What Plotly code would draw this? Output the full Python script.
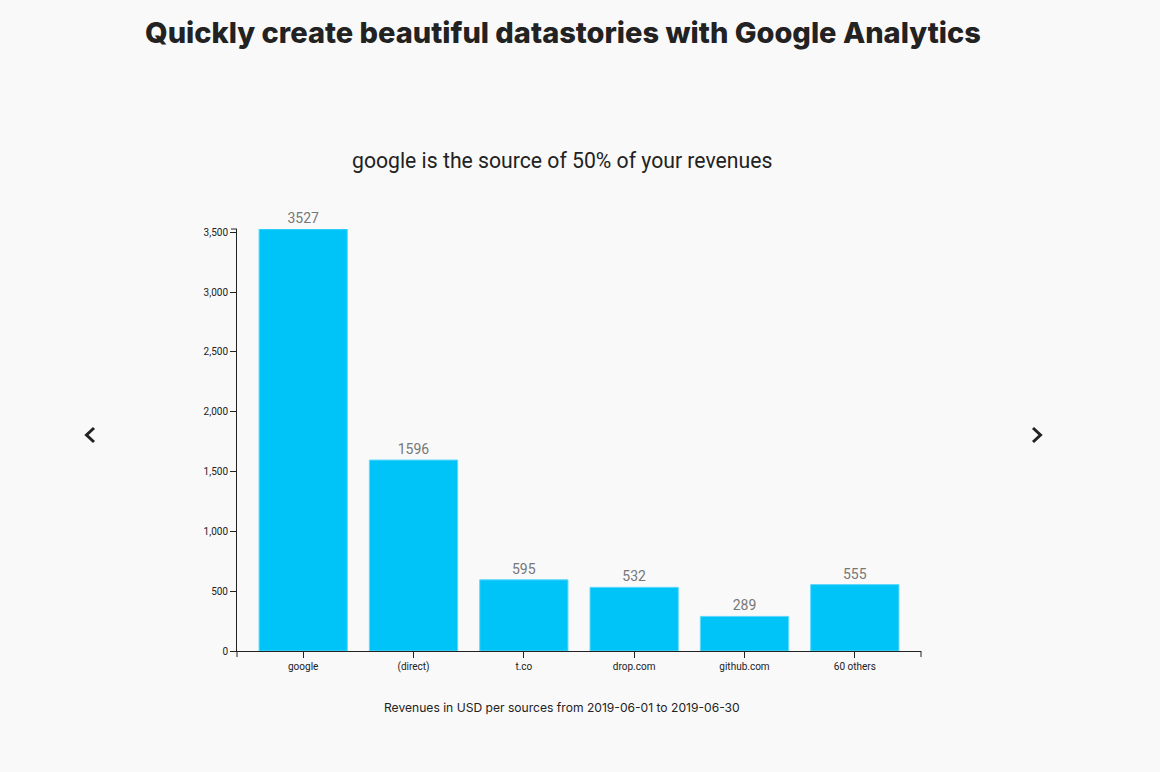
import plotly.graph_objects as go

sources = ["google", "(direct)", "t.co", "drop.com", "github.com", "60 others"]
revenues = [3527, 1596, 595, 532, 289, 555]
y_ticks = [0, 500, 1000, 1500, 2000, 2500, 3000, 3500]

W, H = 1160, 772
L, R, T, B = 237, 921, 229, 651

def px(x):
    return (x - L) / (R - L)

def py(y):
    return (B - y) / (B - T)

fig = go.Figure(go.Bar(
    x=sources, y=revenues, width=0.8,
    marker=dict(color="#00C4F7", line=dict(color="#5fd8fa", width=1)),
    text=[str(v) for v in revenues], textposition="outside",
    textfont=dict(family="Roboto, Arial, sans-serif", size=14, color="#777777"),
    cliponaxis=False, hoverinfo="x+y",
))

fig.update_layout(
    width=W, height=H,
    margin=dict(l=L, r=W - R, t=T, b=H - B),
    paper_bgcolor="#f9f9f9", plot_bgcolor="#f9f9f9",
    showlegend=False,
    bargap=0.2,
    xaxis=dict(range=[-0.6, 5.6], showline=True, linecolor="#222", linewidth=1,
               ticks="outside", ticklen=6, tickcolor="#222", showgrid=False,
               tickfont=dict(family="Roboto, Arial, sans-serif", size=10, color="#222"),
               fixedrange=True),
    yaxis=dict(range=[0, 3527], showline=True, linecolor="#222", linewidth=1,
               ticks="outside", ticklen=6, tickcolor="#222", showgrid=False,
               tickvals=y_ticks, tickformat=",", zeroline=False,
               tickfont=dict(family="Roboto, Arial, sans-serif", size=10, color="#222"),
               fixedrange=True),
    annotations=[
        dict(text="Quickly create beautiful datastories with Google Analytics",
             xref="paper", yref="paper", x=px(563), y=py(32), showarrow=False,
             xanchor="center", yanchor="middle",
             font=dict(family="Inter, Lato, sans-serif", size=29, color="#222", weight=800)),
        dict(text="google is the source of 50% of your revenues",
             xref="paper", yref="paper", x=px(562), y=py(161), showarrow=False,
             xanchor="center", yanchor="middle",
             font=dict(family="Roboto, Arial, sans-serif", size=21.2, color="#222")),
        dict(text="Revenues in USD per sources from 2019-06-01 to 2019-06-30",
             xref="paper", yref="paper", x=px(562), y=py(707), showarrow=False,
             xanchor="center", yanchor="middle",
             font=dict(family="Inter, Lato, sans-serif", size=12.1, color="#222")),
    ],
    shapes=[
        dict(type="line", xref="paper", yref="paper", x0=px(921), x1=px(921), y0=py(651), y1=py(657),
             line=dict(color="#222", width=1)),
        dict(type="line", xref="paper", yref="paper", x0=px(237), x1=px(237), y0=py(651), y1=py(657),
             line=dict(color="#222", width=1)),
        dict(type="line", xref="paper", yref="paper", x0=px(231), x1=px(237), y0=py(229), y1=py(229),
             line=dict(color="#222", width=1)),
        dict(type="path", xref="paper", yref="paper",
             path=f"M {px(94)},{py(428)} L {px(86.5)},{py(435)} L {px(94)},{py(442)}",
             line=dict(color="#222", width=3)),
        dict(type="path", xref="paper", yref="paper",
             path=f"M {px(1033)},{py(428)} L {px(1040.5)},{py(435)} L {px(1033)},{py(442)}",
             line=dict(color="#222", width=3)),
    ],
)

fig.write_html(
    "out.html",
    config={"displayModeBar": False},
    post_script="document.body.style.margin='0';document.body.style.overflow='hidden';"
                "document.body.style.background='#f9f9f9';",
)
